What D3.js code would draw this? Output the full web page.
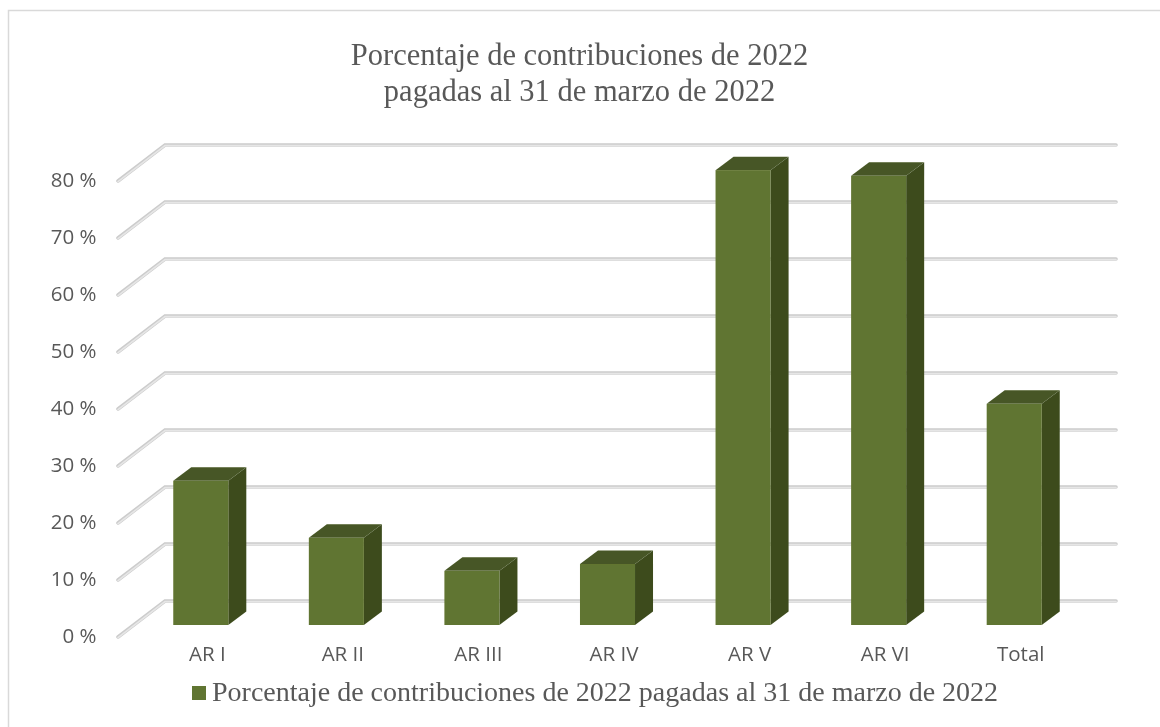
<!DOCTYPE html>
<html>
<head>
<meta charset="utf-8">
<script src="https://cdn.jsdelivr.net/npm/d3@7"></script>
<style>
  html, body { margin: 0; padding: 0; background: #fff; }
  svg { display: block; }
</style>
</head>
<body>
<svg width="1160" height="727"></svg>
<script>
"use strict";
const categories = ['AR I', 'AR II', 'AR III', 'AR IV', 'AR V', 'AR VI', 'Total'];
const values = [25.3, 15.3, 9.5, 10.7, 79.8, 78.8, 38.8];
const yTicks = [0, 10, 20, 30, 40, 50, 60, 70, 80];
const titleLines = ['Porcentaje de contribuciones de 2022', 'pagadas al 31 de marzo de 2022'];
const legendLabel = 'Porcentaje de contribuciones de 2022 pagadas al 31 de marzo de 2022';

const svg = d3.select('svg');
const serif = '"Liberation Serif", serif';
const sans = '"Open Sans", "Noto Sans", sans-serif';

// the reference is a scaled screenshot, a slight blur brings the edges close
svg.append('filter')
  .attr('id', 'soft')
  .attr('x', 0).attr('y', 0).attr('width', 1160).attr('height', 727)
  .attr('filterUnits', 'userSpaceOnUse')
  .append('feGaussianBlur')
  .attr('stdDeviation', 0.45);
let root = svg.append('g').attr('filter', 'url(#soft)');

// chart frame, no right edge and it runs off the bottom of the picture
root.append('path')
  .attr('d', 'M8.5,727V10.5H1160')
  .attr('fill', 'none')
  .attr('stroke', '#d9d9d9')
  .attr('stroke-width', 1.5);

root.append('g')
  .attr('font-family', serif)
  .attr('font-size', 30.5)
  .attr('fill', '#595959')
  .attr('text-anchor', 'middle')
  .selectAll('text')
  .data(titleLines)
  .join('text')
  .attr('x', 579.5)
  .attr('y', (d, i) => 65 + i * 36)
  .text(d => d);

// y is the back wall, the axis labels and bars sit on shifted copies of it
let depth = {dx: 47, dy: 36};
let barDepth = {dx: 18, dy: 13.5};
let y = d3.scaleLinear([0, 80], [601, 145]);
let x = d3.scaleBand(categories, [133, 1082]).padding(0.297).paddingInner(0.594);
let barFloor = 24;

let grid = root.append('g');
function gridLine(sel, stroke, width, shift) {
  sel.append('g')
    .selectAll('path')
    .data(yTicks)
    .join('path')
    .attr('d', d => `M${165 - depth.dx},${y(d) + depth.dy + shift}L165,${y(d) + shift}H1116`)
    .attr('fill', 'none')
    .attr('stroke', stroke)
    .attr('stroke-width', width)
    .attr('stroke-linecap', 'round');
}
gridLine(grid, '#cccccc', 3.6, 0);
gridLine(grid, '#e6e6e6', 1.6, 0.6);

root.append('g')
  .attr('font-family', sans)
  .attr('font-size', 20.5)
  .attr('fill', '#595959')
  .attr('text-anchor', 'end')
  .selectAll('text')
  .data(yTicks)
  .join('text')
  .attr('x', 96.5)
  .attr('y', d => y(d) + depth.dy + 6)
  .text(d => d + ' %');

let bars = root.append('g')
  .selectAll('g')
  .data(values)
  .join('g');
let bx = i => x(categories[i]);
let by = d => y(d) + barFloor;
let w = x.bandwidth();
// side
bars.append('path')
  .attr('d', (d, i) => `M${bx(i) + w},${by(d)}l${barDepth.dx},${-barDepth.dy}V${by(0) - barDepth.dy}l${-barDepth.dx},${barDepth.dy}Z`)
  .attr('fill', '#3d4c1d');
// top
bars.append('path')
  .attr('d', (d, i) => `M${bx(i)},${by(d)}l${barDepth.dx},${-barDepth.dy}h${w}l${-barDepth.dx},${barDepth.dy}Z`)
  .attr('fill', '#475725');
// front
bars.append('rect')
  .attr('x', (d, i) => bx(i))
  .attr('y', d => by(d))
  .attr('width', w)
  .attr('height', d => by(0) - by(d))
  .attr('fill', '#617430');

root.append('g')
  .attr('font-family', sans)
  .attr('font-size', 20.5)
  .attr('fill', '#595959')
  .attr('text-anchor', 'middle')
  .selectAll('text')
  .data(categories)
  .join('text')
  .attr('x', d => x(d) + w / 2 + 6.5)
  .attr('y', 661)
  .text(d => d);

// legend
root.append('rect')
  .attr('x', 192)
  .attr('y', 686)
  .attr('width', 14)
  .attr('height', 14)
  .attr('fill', '#617430');
root.append('text')
  .attr('x', 212)
  .attr('y', 701)
  .attr('font-family', serif)
  .attr('font-size', 28)
  .attr('fill', '#595959')
  .text(legendLabel);
</script>
</body>
</html>
